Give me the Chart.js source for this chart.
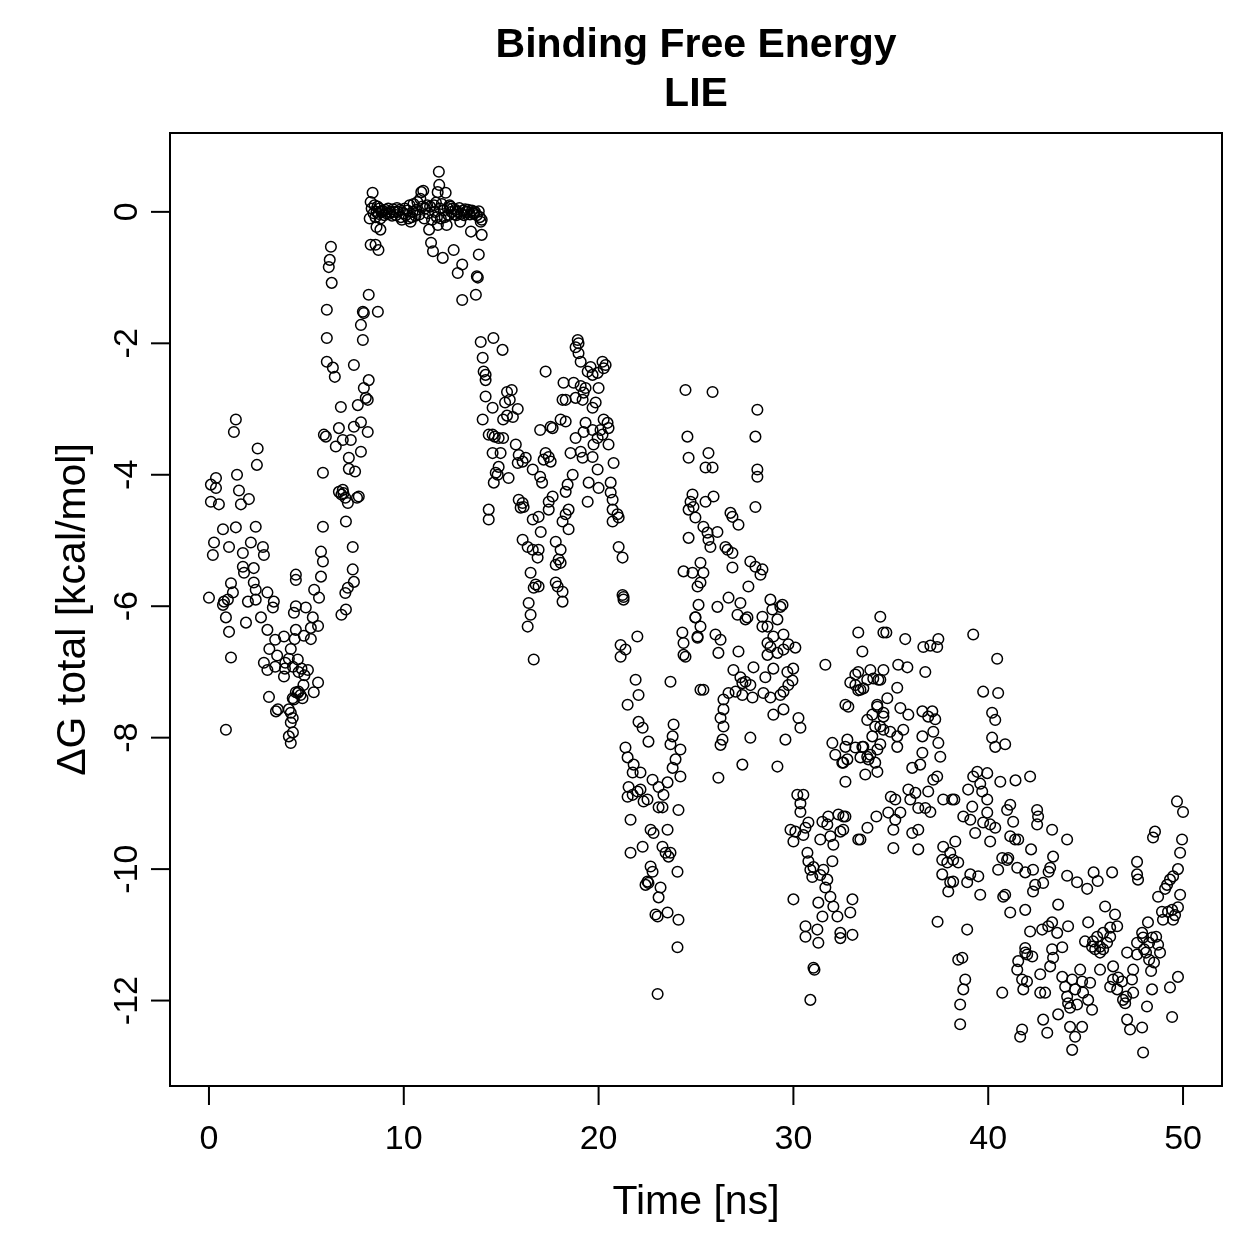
<!DOCTYPE html>
<html lang="en">
<head>
<meta charset="UTF-8">
<title>Binding Free Energy - LIE</title>
<script src="https://cdn.jsdelivr.net/npm/chart.js"></script>
<style>
  html, body { margin: 0; padding: 0; background: #fff; }
</style>
</head>
<body>
<canvas id="lieChart" width="1259" height="1259"></canvas>
<script>
const xTicks = [0, 10, 20, 30, 40, 50];
const yTicks = [0, -2, -4, -6, -8, -10, -12];
const titleLines = ['Binding Free Energy', 'LIE'];
const xTitle = 'Time [ns]';
const yTitle = 'ΔG total [kcal/mol]';

// [time (ns), dG total (kcal/mol)]
const dgStart = [
  [0,-5.87],[0.1,-4.15],[0.1,-4.41],[0.2,-5.22],[0.26,-5.03],[0.36,-4.05],[0.36,-4.2],[0.51,-4.45],[0.72,-4.83],[0.72,-5.98],
  [0.77,-5.93],[0.87,-6.17],[0.87,-7.88],[0.97,-5.9],[1.03,-5.1],[1.03,-6.39],[1.13,-5.65],[1.13,-6.78],[1.23,-5.79],[1.28,-3.35],
  [1.38,-3.16],[1.38,-4.8],[1.44,-4.0],[1.54,-4.24],[1.64,-4.45],[1.74,-5.19],[1.74,-5.4],[1.8,-5.49],[1.9,-6.25],[2.0,-5.93],
  [2.05,-4.37],[2.15,-5.03],[2.3,-5.42],[2.3,-5.64],[2.4,-4.79],[2.4,-5.75],[2.4,-5.9],[2.46,-3.85],[2.5,-3.6],[2.67,-6.17],
  [2.77,-5.1],[2.82,-5.22],[2.82,-6.86],[3.0,-5.79],[3.0,-6.36],[3.0,-6.97],[3.08,-7.38],[3.1,-6.65],[3.28,-6.02],[3.33,-5.93],
  [3.4,-6.51],[3.4,-6.92],[3.44,-7.6],[3.5,-6.75],[3.54,-7.57],[3.85,-6.46],[3.85,-7.07],[3.9,-6.95],[3.92,-6.86],[4.1,-6.8],
  [4.1,-7.57],[4.1,-7.98],[4.2,-6.65],[4.2,-7.62],[4.2,-7.77],[4.2,-8.08],[4.3,-7.4],[4.3,-7.7],[4.31,-6.92],[4.31,-7.92],
  [4.36,-6.1],[4.36,-7.42],[4.4,-6.5],[4.46,-5.52],[4.46,-5.6],[4.46,-6.0],[4.46,-6.36],[4.46,-7.31],[4.56,-6.81],[4.56,-7.32],
  [4.6,-7.0],[4.6,-7.3],[4.7,-7.35],[4.75,-6.95],[4.8,-7.4],[4.85,-7.2],[4.87,-6.45],[4.9,-7.05],[4.97,-6.02],[5.08,-6.97],
  [5.23,-6.33],[5.23,-6.5],[5.33,-6.17],[5.38,-7.31],[5.4,-5.75],[5.6,-6.3],[5.6,-7.16],[5.65,-5.87],[5.75,-5.17],[5.75,-5.55],
  [5.85,-3.97],[5.85,-4.79],[5.85,-5.32],[5.9,-3.39],[6.0,-3.42],[6.05,-1.49],[6.05,-1.92],[6.05,-2.28],[6.15,-0.84],[6.2,-0.73],
  [6.26,-0.53],[6.3,-1.08],[6.36,-2.37],[6.46,-2.51],[6.51,-3.57],[6.67,-3.29],[6.67,-4.26],[6.77,-2.97],[6.8,-4.3],[6.8,-6.13],
  [6.87,-3.47],[6.87,-4.23],[6.9,-4.28],[7.0,-4.35],[7.0,-5.8],[7.03,-4.71],[7.03,-6.05],[7.13,-4.43],[7.13,-5.72],[7.18,-3.74],
  [7.18,-3.91],[7.28,-3.47],[7.38,-5.1],[7.38,-5.44],[7.44,-2.33],[7.44,-3.27],[7.44,-5.63],[7.5,-3.95],[7.6,-4.35],[7.64,-2.94],
  [7.69,-4.33],[7.8,-1.72],[7.8,-3.2],[7.8,-3.65],[7.9,-1.52],[7.9,-1.95],[7.95,-1.54],[7.95,-2.68]
];

const dgPlateau = [
  [8.05,-2.83],[8.15,-2.86],[8.15,-3.35],[8.2,-1.26],[8.2,-2.56],[8.25,-0.1],[8.3,-0.5],[8.3,0.15],[8.35,0.05],[8.4,0.29],
  [8.45,-0.02],[8.5,0.1],[8.55,-0.5],[8.55,-0.08],[8.6,-0.23],[8.6,0.0],[8.65,0.08],[8.67,-1.52],[8.7,-0.58],[8.7,-0.03],
  [8.75,0.05],[8.8,-0.27],[8.8,-0.1],[8.85,0.0],[8.9,0.02],[9.0,-0.05],[9.05,0.03],[9.1,-0.02],[9.2,0.05],[9.25,-0.03],
  [9.3,0.0],[9.4,-0.06],[9.45,0.04],[9.5,0.0],[9.6,-0.05],[9.65,0.06],[9.7,0.0],[9.8,0.03],[9.85,-0.08],[9.9,-0.12],
  [10.0,-0.02],[10.05,0.05],[10.1,-0.05],[10.2,0.02],[10.25,-0.1],[10.3,0.1],[10.35,-0.15],[10.4,-0.08],[10.45,0.0],[10.5,0.12],
  [10.6,-0.06],[10.65,0.03],[10.7,0.15],[10.8,-0.04],[10.85,0.2],[10.9,0.3],[10.95,0.08],[11.0,0.32],[11.05,-0.1],[11.1,0.05],
  [11.2,0.1],[11.25,-0.02],[11.3,-0.27],[11.35,0.08],[11.4,-0.47],[11.45,-0.12],[11.5,-0.6],[11.55,0.1],[11.6,0.0],[11.65,0.14],
  [11.7,-0.08],[11.74,0.3],[11.75,-0.2],[11.8,0.61],[11.82,0.41],[11.85,0.05],[11.9,-0.1],[11.95,0.12],[12.0,-0.7],[12.05,0.02],
  [12.1,-0.08],[12.15,0.29],[12.2,-0.2],[12.25,0.06],[12.3,-0.05],[12.35,0.1],[12.4,0.08],[12.45,0.0],[12.5,0.05],[12.56,-0.58],
  [12.6,-0.04],[12.65,0.03],[12.7,-0.05],[12.75,0.0],[12.77,-0.93],[12.85,0.06],[12.9,-0.15],[12.95,-0.03],[13.0,-0.8],[13.0,-1.34],
  [13.05,0.02],[13.1,-0.05],[13.15,0.04],[13.2,0.0],[13.25,0.0],[13.3,0.03],[13.4,-0.04],[13.45,-0.3],[13.5,0.02],[13.55,-0.02],
  [13.6,-0.02],[13.65,0.0],[13.7,-1.26],[13.75,-0.98],[13.75,-0.05],[13.8,-1.0],[13.85,-0.65],[13.85,0.01],[13.9,-0.08],[13.95,-0.15],
  [14.0,-0.12],[14.0,-0.35]
];

const dgRecovery = [
  [13.95,-1.98],[14.6,-1.92],[15.07,-2.1],[14.05,-2.22],[14.1,-2.43],[14.2,-2.48],[14.2,-2.56],[17.28,-2.43],[14.2,-2.81],[14.56,-2.98],
  [14.05,-3.16],[15.3,-2.74],[15.54,-2.71],[15.44,-2.86],[15.2,-2.9],[15.85,-3.0],[15.3,-3.1],[15.6,-3.12],[15.1,-3.16],[14.36,-3.39],
  [14.67,-3.42],[14.87,-3.44],[14.56,-3.39],[15.1,-3.44],[15.75,-3.54],[14.56,-3.67],[14.97,-3.67],[15.9,-3.7],[16.26,-3.74],[16.1,-3.8],
  [15.85,-3.82],[17.0,-3.32],[17.54,-3.27],[17.28,-3.67],[17.44,-3.73],[17.18,-3.77],[17.54,-3.8],[18.15,-2.86],[18.2,-2.6],[16.62,-3.92],
  [17.0,-4.03],[17.1,-4.12],[17.44,-4.41],[17.64,-4.33],[17.44,-4.53],[14.87,-3.88],[14.72,-3.97],[14.82,-4.0],[15.38,-4.05],[14.62,-4.12],
  [15.9,-4.38],[16.1,-4.43],[16.0,-4.5],[16.15,-4.49],[14.36,-4.53],[14.36,-4.68],[16.62,-4.68],[16.92,-4.64],[17.03,-4.87],[16.1,-4.99],
  [16.36,-5.1],[16.92,-5.14],[16.87,-5.26],[16.62,-5.14],[16.51,-5.49],[16.77,-5.67],[16.92,-5.7],[16.67,-5.72],[16.41,-5.95],[16.51,-6.13],
  [16.36,-6.31],[16.67,-6.81],
  [18.93,-1.95],[18.97,-2.0],[18.82,-2.06],[18.97,-2.15],[19.08,-2.28],[19.59,-2.36],[19.44,-2.43],[19.69,-2.48],[19.95,-2.45],[20.2,-2.28],
  [20.36,-2.33],[20.26,-2.38],[18.72,-2.6],[19.08,-2.65],[19.33,-2.68],[19.23,-2.75],[20.0,-2.68],[18.31,-2.86],[18.82,-2.83],[19.18,-2.86],
  [19.69,-2.98],[19.85,-2.9],[18.05,-3.16],[18.31,-3.19],[17.64,-3.29],[19.33,-3.21],[19.69,-3.32],[19.23,-3.35],[20.26,-3.16],[20.46,-3.21],
  [20.51,-3.29],[20.1,-3.32],[20.2,-3.39],[19.95,-3.44],[19.74,-3.54],[20.51,-3.54],[18.82,-3.44],[18.56,-3.67],[19.08,-3.65],[19.18,-3.74],
  [19.69,-3.73],[19.95,-3.92],[20.77,-3.82],[18.67,-4.0],[18.41,-4.15],[18.31,-4.26],[19.49,-4.12],[20.0,-4.2],[20.62,-4.12],[20.62,-4.27],
  [20.72,-4.38],[19.44,-4.41],[18.46,-4.53],[18.31,-4.6],[18.15,-4.71],[18.46,-4.83],[20.72,-4.53],[20.97,-4.6],[20.72,-4.71],[21.03,-4.65],
  [17.8,-5.02],[18.05,-5.14],[17.95,-5.29],[17.8,-5.37],[18.05,-5.34],[17.8,-5.64],[17.9,-5.7],[18.15,-5.78],[18.15,-5.93],[21.03,-5.1],
  [21.23,-5.26],[21.23,-5.83],[21.28,-5.86]
];

const dgDrop = [
  [21.28,-5.9],[21.99,-6.46],[21.13,-6.59],[21.38,-6.66],[21.13,-6.77],[24.3,-6.4],[24.36,-6.56],[24.46,-6.77],[24.97,-6.17],[25.08,-6.46],
  [21.9,-7.12],[22.05,-7.35],[21.49,-7.5],[23.69,-7.15],[25.23,-7.27],[22.05,-7.76],[22.26,-7.85],[22.56,-8.06],[23.85,-7.8],[23.8,-7.98],
  [23.69,-8.1],[24.2,-8.18],[23.95,-8.33],[23.8,-8.46],[24.2,-8.59],[21.38,-8.15],[21.49,-8.3],[21.8,-8.41],[21.75,-8.53],[22.15,-8.53],
  [21.54,-8.75],[21.49,-8.9],[21.75,-8.87],[22.0,-8.82],[22.15,-8.79],[22.31,-8.97],[22.51,-8.94],[22.77,-8.64],[23.08,-8.75],[23.33,-8.87],
  [23.54,-8.68],[23.08,-9.06],[23.28,-9.06],[24.1,-9.1],[21.64,-9.25],[22.67,-9.4],[22.82,-9.45],[23.54,-9.4],[22.26,-9.66],[21.64,-9.75],
  [23.28,-9.66],[23.44,-9.75],[23.59,-9.81],[23.69,-9.75],[22.67,-9.96],[22.77,-10.04],[22.51,-10.19],[22.41,-10.24],[22.56,-10.21],[23.18,-10.28],
  [23.08,-10.43],[24.05,-10.04],[22.92,-10.69],[23.03,-10.72],[23.54,-10.66],[24.1,-10.77],[24.05,-11.19],[23.03,-11.9],
  [24.46,-2.71],[25.85,-2.74],[28.15,-3.01],[24.56,-3.42],[28.05,-3.42],[24.62,-3.74],[25.64,-3.67],[25.49,-3.89],[25.85,-3.89],[28.15,-3.92],
  [28.15,-4.03],[24.82,-4.3],[24.72,-4.41],[24.62,-4.53],[24.87,-4.49],[24.97,-4.65],[25.49,-4.41],[25.9,-4.33],[26.77,-4.58],[26.87,-4.64],
  [27.18,-4.76],[28.05,-4.49],[24.62,-4.96],[25.38,-4.79],[25.59,-4.88],[25.64,-4.99],[25.74,-5.1],[26.1,-4.87],[26.51,-5.1],[26.62,-5.14],
  [26.87,-5.19],[26.87,-5.41],[27.79,-5.32],[28.05,-5.4],[28.41,-5.44],[28.31,-5.52],[27.69,-5.7],[24.36,-5.47],[24.82,-5.49],[25.23,-5.34],
  [25.38,-5.49],[25.23,-5.64],[25.08,-5.7],[25.13,-5.98],[24.97,-6.17],[25.23,-6.31],[24.36,-6.74],[25.08,-6.48],[26.0,-6.43],[26.26,-6.51],
  [26.15,-6.71],[26.1,-6.01],[26.67,-5.87],[27.28,-5.95],[27.13,-6.13],[27.64,-6.17],[27.54,-6.2],[28.41,-6.16],[28.82,-5.9],[28.92,-6.05],
  [29.33,-6.01],[29.44,-5.98],[29.18,-6.2],[28.67,-6.31],[28.41,-6.31],[28.67,-6.56],[28.82,-6.62],[28.97,-6.46],[29.49,-6.43],[29.74,-6.58],
  [30.1,-6.63],[28.67,-6.74],[29.18,-6.71],[27.18,-6.69],[26.92,-6.97],[27.28,-7.08],[27.38,-7.17],[27.54,-7.15],[27.79,-7.2],[27.95,-6.93],
  [28.56,-7.08],[28.97,-6.95],[29.69,-7.0],[29.99,-6.95],[29.95,-7.13],[29.74,-7.2],[29.49,-7.3],[25.38,-7.27],[26.41,-7.42],[26.67,-7.32],
  [27.03,-7.3],[27.38,-7.35],[27.9,-7.39],[28.46,-7.32],[28.82,-7.39],[29.33,-7.35],[26.41,-7.57],[26.26,-7.7],[26.41,-7.83],[26.36,-8.03],
  [26.26,-8.11],[28.97,-7.65],[29.49,-7.57],[30.26,-7.7],[30.36,-7.85],[27.79,-8.0],[29.59,-8.03],[27.38,-8.41],[29.18,-8.44],[26.15,-8.61]
];

const dgMid = [
  [31.64,-6.89],[32.67,-7.5],[32.0,-8.08],[32.15,-8.26],[32.51,-8.38],[32.77,-8.03],[32.77,-8.33],[32.67,-8.67],[33.18,-8.15],[33.54,-8.14],
  [33.79,-8.29],[33.69,-8.56],[33.95,-8.26],[34.31,-8.18],[34.31,-8.52],[34.2,-8.38],[32.92,-7.16],[33.18,-7.04],[33.44,-7.27],[33.95,-6.97],
  [34.46,-7.12],[33.79,-7.12],[33.79,-7.73],[34.31,-7.53],[34.62,-7.68],[34.46,-7.83],[34.05,-7.98],[29.49,-6.66],
  [30.2,-8.87],[30.51,-8.87],[30.36,-9.0],[30.36,-9.13],[29.85,-9.4],[30.1,-9.43],[30.0,-9.58],[30.62,-9.37],[30.51,-9.48],[30.77,-9.29],
  [31.49,-9.28],[31.74,-9.32],[31.79,-9.2],[32.31,-9.17],[32.67,-9.2],[31.9,-9.5],[32.41,-9.43],[31.38,-9.55],[32.05,-9.63],[32.0,-9.88],
  [33.33,-9.55],[33.8,-9.37],[34.26,-9.2],[30.72,-9.75],[30.77,-9.88],[30.87,-10.01],[31.03,-9.97],[30.97,-10.12],[31.38,-10.09],[31.54,-10.01],
  [31.74,-10.16],[31.64,-10.28],[31.9,-10.42],[30.0,-10.46],[31.28,-10.51],[31.49,-10.72],[32.05,-10.57],[32.26,-10.72],[33.03,-10.46],[32.92,-10.66],
  [30.62,-10.87],[30.62,-11.03],[31.23,-10.92],[31.28,-11.12],[32.41,-10.97],[32.41,-11.05],[33.03,-11.0],[31.03,-11.5],[31.08,-11.53],[30.87,-11.99],
  [34.46,-6.16],[33.33,-6.4],[34.62,-6.4],[34.77,-6.4],[35.74,-6.5],[36.67,-6.62],[37.03,-6.6],[37.38,-6.62],[37.44,-6.5],[33.54,-6.69],
  [33.33,-7.0],[34.36,-7.12],[34.62,-6.97],[35.38,-6.89],[35.85,-6.93],[36.77,-7.0],[33.18,-7.2],[33.59,-7.25],[33.33,-7.28],[34.1,-7.1],
  [35.33,-7.24],[32.82,-7.53],[34.3,-7.5],[34.82,-7.4],[35.49,-7.55],[35.9,-7.65],[36.62,-7.6],[36.92,-7.68],[37.28,-7.72],[34.05,-7.65],
  [34.62,-7.62],[34.2,-7.83],[34.62,-7.88],[34.97,-7.91],[35.33,-7.98],[35.64,-7.88],[36.62,-7.98],[37.18,-7.91],[37.44,-8.08],[34.46,-8.1],
  [35.33,-8.14],[32.67,-8.14],[33.59,-8.14],[33.44,-8.3],[33.85,-8.33],[32.56,-8.38],[36.62,-8.23],[37.54,-8.29],[36.1,-8.46],[36.51,-8.41],
  [37.18,-8.64],[37.38,-8.59],[35.0,-8.9],[35.9,-8.79],[36.26,-8.84],[36.92,-8.82],[35.23,-8.94],[36.0,-8.94],[36.41,-9.07],[36.77,-9.07],
  [37.69,-8.94],[38.15,-8.94],[34.87,-9.14],[35.23,-9.25],[35.13,-9.4],[35.49,-9.14],[36.1,-9.45],[36.41,-9.4],[33.44,-9.55],[32.56,-9.2],
  [32.56,-9.4],[35.13,-9.68],[36.41,-9.7],[37.69,-9.66],[38.05,-9.75],[38.2,-9.86],[37.64,-9.86],[37.9,-9.9]
];

const dgLate = [
  [39.23,-6.43],[40.46,-6.8],[39.74,-7.3],[40.51,-7.32],[40.2,-7.62],[40.36,-7.73],[40.2,-8.0],[40.36,-8.14],[40.87,-8.1],[37.13,-7.6],
  [37.03,-9.13],[38.26,-8.94],[38.97,-8.79],[39.23,-8.59],[39.44,-8.52],[39.95,-8.54],[39.59,-8.7],[39.69,-8.82],[39.95,-8.94],[40.62,-8.67],
  [41.4,-8.65],[42.15,-8.59],[39.18,-9.05],[38.72,-9.2],[39.08,-9.25],[39.33,-9.45],[39.74,-9.29],[39.95,-9.14],[40.1,-9.32],[40.36,-9.37],
  [40.1,-9.58],[40.97,-9.1],[41.13,-9.02],[41.28,-9.28],[41.13,-9.5],[41.38,-9.55],[41.54,-9.55],[38.31,-9.58],[38.46,-9.9],[37.64,-10.08],
  [38.05,-10.2],[38.2,-10.19],[37.95,-10.34],[38.92,-10.2],[39.08,-10.08],[39.49,-10.11],[39.59,-10.39],[40.72,-9.83],[41.03,-9.83],[40.51,-10.01],
  [41.49,-9.98],[40.77,-10.42],[40.87,-10.39],[41.13,-10.66],[42.2,-9.7],[41.9,-10.05],[41.9,-10.62],[37.4,-10.8],[38.92,-10.92],[38.46,-11.38],
  [38.67,-11.35],[38.82,-11.68],[38.72,-11.83],[38.56,-12.06],[38.56,-12.36],[40.72,-11.88],[41.54,-11.4],[41.49,-11.53],[41.9,-11.27],[41.9,-11.2],
  [41.74,-11.68],[41.8,-11.83],[41.74,-12.44],[41.64,-12.55],
  [40.97,-9.86],[42.51,-9.1],[42.56,-9.2],[42.51,-9.32],[43.28,-9.4],[44.05,-9.55],[43.33,-9.81],[43.18,-9.98],[43.1,-10.04],[42.3,-10.01],
  [44.05,-10.1],[44.56,-10.2],[45.08,-10.3],[45.41,-10.05],[45.62,-10.18],[42.41,-10.24],[42.82,-10.21],[42.3,-10.34],[43.59,-10.54],[42.15,-10.95],
  [42.77,-10.92],[43.08,-10.87],[43.28,-10.81],[43.54,-10.97],[44.1,-10.87],[45.13,-10.81],[44.97,-11.1],[45.38,-11.1],[45.33,-11.18],[45.49,-11.22],
  [42.0,-11.3],[42.26,-11.33],[43.28,-11.22],[43.8,-11.19],[43.33,-11.35],[43.18,-11.48],[42.67,-11.6],[41.99,-11.71],[42.67,-11.88],[42.92,-11.88],
  [43.8,-11.64],[43.95,-11.79],[44.05,-11.94],[44.31,-11.68],[44.46,-11.83],[44.72,-11.53],[44.82,-11.71],[44.87,-11.88],[45.23,-11.73],[45.13,-11.99],
  [44.56,-12.06],[44.1,-12.04],[44.2,-12.11],[43.59,-12.21],[42.82,-12.29],[43.03,-12.49],[44.2,-12.4],[44.82,-12.4],[44.46,-12.55],[44.31,-12.75],
  [49.69,-8.97],[50.0,-9.13],[48.56,-9.43],[48.46,-9.52],[49.95,-9.55],[49.85,-9.75],[47.64,-9.89],[47.64,-10.08],[47.69,-10.16],[46.36,-10.05],
  [49.74,-10.0],[49.49,-10.11],[49.33,-10.16],[49.18,-10.24],[49.08,-10.3],[48.72,-10.42],[49.85,-10.39],[48.92,-10.65],[49.23,-10.65],[49.44,-10.62],
  [49.59,-10.7],[49.49,-10.77],[49.74,-10.58],[48.97,-10.77],[46.0,-10.57],[46.51,-10.69],[46.62,-10.87],[46.26,-10.89],[48.2,-10.81],[48.41,-11.04],
  [45.59,-11.03],[45.74,-11.18],[45.9,-10.97],[46.26,-11.03],[46.1,-11.12],[45.74,-11.27],[45.9,-11.22],[47.64,-11.12],[47.9,-10.97],[47.95,-11.04],
  [48.0,-11.22],[48.1,-11.27],[48.26,-11.12],[48.62,-11.03],[48.72,-11.15],[48.82,-11.27],[47.64,-11.3],[47.13,-11.27],[48.26,-11.38],[48.51,-11.42],
  [48.36,-11.55],[45.74,-11.53],[46.41,-11.48],[46.41,-11.68],[46.67,-11.65],[46.87,-11.71],[47.44,-11.53],[47.38,-11.68],[45.33,-12.14],[46.26,-11.79],
  [46.62,-11.83],[46.92,-11.99],[47.08,-11.94],[47.03,-12.04],[47.44,-11.88],[48.41,-11.83],[49.33,-11.8],[49.74,-11.64],[48.15,-12.09],[47.13,-12.29],
  [47.28,-12.44],[47.9,-12.41],[49.44,-12.25],[47.95,-12.79]
];

const allPoints = [dgStart, dgPlateau, dgRecovery, dgDrop, dgMid, dgLate]
  .flat()
  .map(p => ({ x: p[0], y: p[1] }));

const FONT = '"Liberation Sans", Arial, Helvetica, sans-serif';

// R style box, outward ticks, rotated y labels and titles
const baseAxes = {
  id: 'baseAxes',
  afterDraw(chart) {
    const { ctx, chartArea: a, scales: { x, y } } = chart;
    ctx.save();
    ctx.strokeStyle = '#000';
    ctx.fillStyle = '#000';
    ctx.lineWidth = 2;
    ctx.strokeRect(a.left, a.top, a.right - a.left, a.bottom - a.top);

    ctx.font = '34px ' + FONT;
    ctx.textAlign = 'center';
    ctx.textBaseline = 'middle';
    xTicks.forEach(v => {
      const px = x.getPixelForValue(v);
      ctx.beginPath();
      ctx.moveTo(px, a.bottom);
      ctx.lineTo(px, a.bottom + 19);
      ctx.stroke();
      ctx.fillText(String(v), px, a.bottom + 54);
    });
    yTicks.forEach(v => {
      const py = y.getPixelForValue(v);
      ctx.beginPath();
      ctx.moveTo(a.left, py);
      ctx.lineTo(a.left - 19, py);
      ctx.stroke();
      ctx.save();
      ctx.translate(a.left - 42, py);
      ctx.rotate(-Math.PI / 2);
      ctx.fillText(String(v), 0, 0);
      ctx.restore();
    });

    ctx.font = '41px ' + FONT;
    ctx.fillText(xTitle, (a.left + a.right) / 2, a.bottom + 117);
    ctx.save();
    ctx.translate(74, (a.top + a.bottom) / 2);
    ctx.rotate(-Math.PI / 2);
    ctx.fillText(yTitle, 0, 0);
    ctx.restore();

    ctx.font = 'bold 41px ' + FONT;
    ctx.fillText(titleLines[0], (a.left + a.right) / 2, 46);
    ctx.fillText(titleLines[1], (a.left + a.right) / 2, 95);
    ctx.restore();
  }
};

new Chart(document.getElementById('lieChart'), {
  type: 'scatter',
  data: {
    datasets: [{
      data: allPoints,
      pointStyle: 'circle',
      pointRadius: 5.3,
      borderColor: '#000',
      backgroundColor: 'rgba(0,0,0,0)',
      borderWidth: 1.5
    }]
  },
  options: {
    responsive: false,
    animation: false,
    layout: { padding: { left: 170, top: 133, right: 37, bottom: 173 } },
    scales: {
      x: { type: 'linear', display: false, min: -2, max: 52 },
      y: { type: 'linear', display: false, min: -13.3, max: 1.2 }
    },
    plugins: {
      legend: { display: false },
      tooltip: { enabled: false }
    }
  },
  plugins: [baseAxes]
});
</script>
</body>
</html>
